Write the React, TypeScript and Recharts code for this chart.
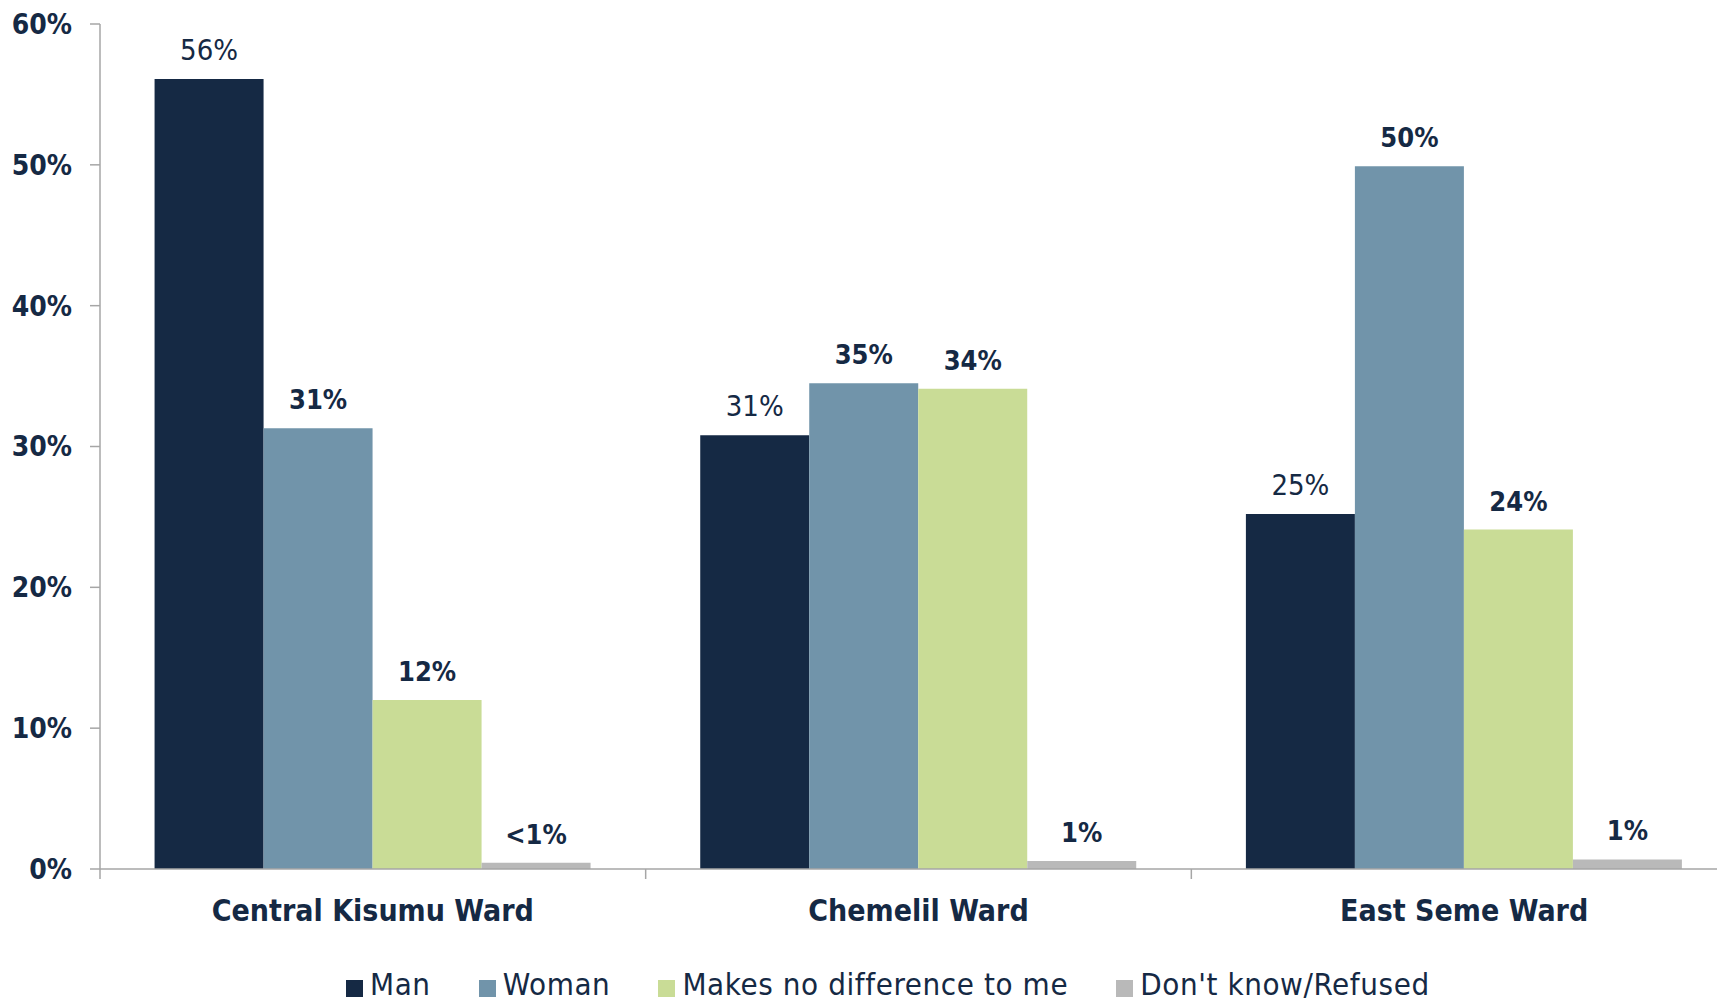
import React from 'react';
import { BarChart, Bar, XAxis, YAxis, Legend, LabelList } from 'recharts';

const categories = ['Central Kisumu Ward', 'Chemelil Ward', 'East Seme Ward'];
const manValues = [56.1, 30.8, 25.2];
const womanValues = [31.3, 34.5, 49.9];
const noDiffValues = [12.0, 34.1, 24.1];
const dkValues = [0.45, 0.57, 0.68];
const manLabels = ['56%', '31%', '25%'];
const womanLabels = ['31%', '35%', '50%'];
const noDiffLabels = ['12%', '34%', '24%'];
const dkLabels = ['<1%', '1%', '1%'];
const yTicks = [0, 10, 20, 30, 40, 50, 60];

const seriesNames = ['Man', 'Woman', 'Makes no difference to me', "Don't know/Refused"];
const colors = ['#152944', '#7194AA', '#C9DC96', '#B9B9B9'];

const TEXT = '#152944';
const AXIS = '#A6A6A6';

const data = categories.map((c, i) => ({
  name: c,
  man: manValues[i],
  woman: womanValues[i],
  noDiff: noDiffValues[i],
  dk: dkValues[i],
  manLabel: manLabels[i],
  womanLabel: womanLabels[i],
  noDiffLabel: noDiffLabels[i],
  dkLabel: dkLabels[i],
}));

const makeLabel = (bold: boolean) => (props: any) => {
  const { x, y, width, value } = props;
  return (
    <text
      x={Number(x) + Number(width) / 2}
      y={Number(y) - 19}
      textAnchor="middle"
      fill={TEXT}
      fontFamily={bold ? '"DejaVu Sans Condensed", "DejaVu Sans"' : '"Liberation Sans Narrow", "DejaVu Sans Condensed"'}
      fontWeight={bold ? 'bold' : 'normal'}
      fontSize={bold ? 27 : 29}
    >
      {value}
    </text>
  );
};

const XTick = (props: any) => {
  const { x, y, payload, index } = props;
  const off = payload.offset || 0;
  return (
    <g>
      <line x1={x - off} y1={y} x2={x - off} y2={y + 10} stroke={AXIS} strokeWidth={1.5} />
      {index === categories.length - 1 && (
        <line x1={x + off} y1={y} x2={x + off} y2={y + 10} stroke={AXIS} strokeWidth={1.5} />
      )}
      <text
        x={x}
        y={y + 52}
        textAnchor="middle"
        fill={TEXT}
        fontFamily='"DejaVu Sans Condensed", "DejaVu Sans"'
        fontWeight="bold"
        fontSize={30}
      >
        {payload.value}
      </text>
    </g>
  );
};

const LegendContent = () => (
  <div style={{ display: 'flex', alignItems: 'baseline', gap: 48, whiteSpace: 'nowrap' }}>
    {seriesNames.map((n, i) => (
      <div key={n} style={{ display: 'flex', alignItems: 'flex-end' }}>
        <span style={{ display: 'inline-block', width: 17, height: 17, background: colors[i], marginRight: 7, marginBottom: 3 }} />
        <span
          style={{
            fontFamily: '"DejaVu Sans Condensed", "DejaVu Sans"',
            fontSize: 31,
            lineHeight: '31px',
            letterSpacing: 0.6,
            color: TEXT,
          }}
        >
          {n}
        </span>
      </div>
    ))}
  </div>
);

export default function App() {
  return (
    <div style={{ width: 1717, height: 994, overflow: 'hidden', position: 'relative' }}>
      <BarChart
        width={1731}
        height={994}
        data={data}
        margin={{ top: 16, right: 2, bottom: 37, left: 0 }}
        barCategoryGap="10%"
        barGap={0}
      >
        <XAxis
          dataKey="name"
          axisLine={{ stroke: AXIS, strokeWidth: 1.5 }}
          tickLine={false}
          tickSize={0}
          tickMargin={0}
          height={60}
          tick={<XTick />}
          interval={0}
        />
        <YAxis
          width={92}
          domain={[0, 60]}
          ticks={yTicks}
          tickFormatter={(v: number) => `${v}%`}
          axisLine={{ stroke: AXIS, strokeWidth: 1.5 }}
          tickLine={{ stroke: AXIS, strokeWidth: 1.5 }}
          tickSize={10}
          tickMargin={18}
          tick={{ fill: TEXT, fontFamily: '"DejaVu Sans Condensed", "DejaVu Sans"', fontWeight: 'bold', fontSize: 28 }}
        />
        <Legend
          content={<LegendContent />}
          wrapperStyle={{ position: 'absolute', top: 961, left: 338, width: 'auto', height: 36 }}
        />
        <Bar dataKey="man" name={seriesNames[0]} fill={colors[0]} isAnimationActive={false}>
          <LabelList dataKey="manLabel" content={makeLabel(false)} />
        </Bar>
        <Bar dataKey="woman" name={seriesNames[1]} fill={colors[1]} isAnimationActive={false}>
          <LabelList dataKey="womanLabel" content={makeLabel(true)} />
        </Bar>
        <Bar dataKey="noDiff" name={seriesNames[2]} fill={colors[2]} isAnimationActive={false}>
          <LabelList dataKey="noDiffLabel" content={makeLabel(true)} />
        </Bar>
        <Bar dataKey="dk" name={seriesNames[3]} fill={colors[3]} isAnimationActive={false}>
          <LabelList dataKey="dkLabel" content={makeLabel(true)} />
        </Bar>
      </BarChart>
    </div>
  );
}
